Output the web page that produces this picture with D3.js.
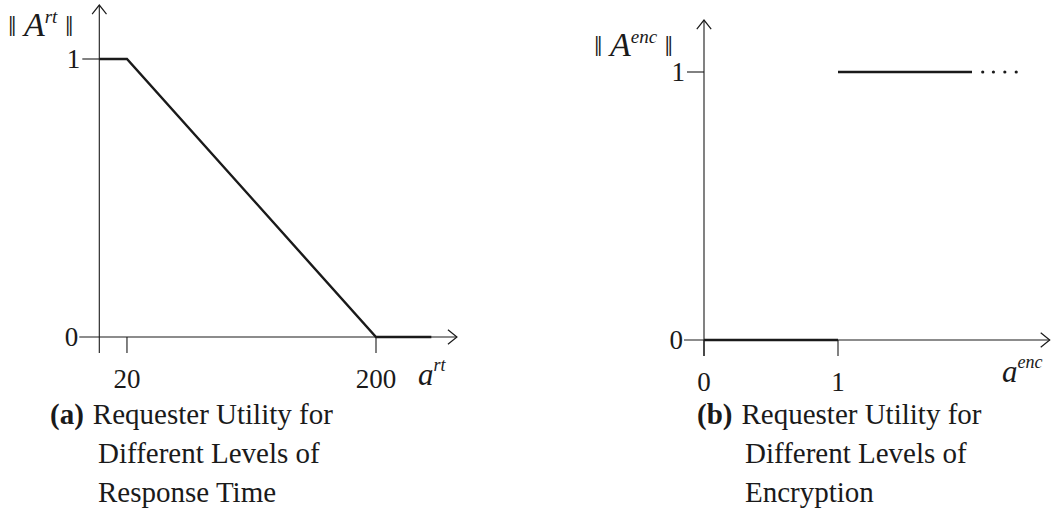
<!DOCTYPE html>
<html><head><meta charset="utf-8">
<script src="https://cdn.jsdelivr.net/npm/d3@7"></script>
<style>
body{margin:0;background:#fff;}
svg text{font-family:"Liberation Serif","DejaVu Serif",serif;fill:#1a1a1a;}
</style></head><body>
<svg id="c" width="1052" height="527"></svg>
<script>
// ---- data ----
const rtX = [0, 20, 200, 240];
const rtY = [1, 1, 0, 0];
const rtXTicks = [20, 200];
const rtYTicks = [0, 1];
const encSeg0X = [0, 1];
const encSeg0Y = [0, 0];
const encSeg1X = [1, 2];
const encSeg1Y = [1, 1];
const encDots = [2.08, 2.16, 2.245, 2.33];
const encXTicks = [0, 1];
const encYTicks = [0, 1];
const captionA = ["Requester Utility for", "Different Levels of", "Response Time"];
const captionB = ["Requester Utility for", "Different Levels of", "Encryption"];

const svg = d3.select("#c");
const ink = "#1a1a1a";

function arrowHead(g, x, y, dir){
  const s = 9;
  let p;
  if(dir==="right") p = [[x-s, y-s*0.8],[x, y],[x-s, y+s*0.8]];
  else p = [[x-s*0.8, y+s],[x, y],[x+s*0.8, y+s]];
  g.append("path").attr("d", d3.line()(p)).attr("fill","none").attr("stroke",ink).attr("stroke-width",1.2);
}

function panel(cfg){
  const g = svg.append("g");
  const x = d3.scaleLinear().domain(cfg.xd).range(cfg.xr);
  const y = d3.scaleLinear().domain([0,1]).range(cfg.yr);
  const x0 = x(0), y0 = y(0);
  // axes
  g.append("line").attr("x1",x0).attr("x2",x0).attr("y1",y0+16).attr("y2",y(cfg.yMax)).attr("stroke",ink).attr("stroke-width",1.1);
  g.append("line").attr("x1",x0-20).attr("x2",x(cfg.xMax)).attr("y1",y0).attr("y2",y0).attr("stroke",ink).attr("stroke-width",1.1);
  arrowHead(g, x0, y(cfg.yMax), "up");
  arrowHead(g, x(cfg.xMax), y0, "right");
  // y ticks
  cfg.yTicks.forEach(t=>{
    if(t!==0) g.append("line").attr("x1",x0-17).attr("x2",x0).attr("y1",y(t)).attr("y2",y(t)).attr("stroke",ink).attr("stroke-width",1.1);
    g.append("text").attr("x",x0-(t===0?21:19)).attr("y",y(t)+9).attr("text-anchor","end").attr("font-size",27).text(t);
  });
  // x ticks
  cfg.xTicks.forEach(t=>{
    g.append("line").attr("x1",x(t)).attr("x2",x(t)).attr("y1",y0).attr("y2",y0+16).attr("stroke",ink).attr("stroke-width",1.1);
    g.append("text").attr("x",x(t)).attr("y",y0+51).attr("text-anchor","middle").attr("font-size",27).text(t);
  });
  // data
  const line = d3.line().x(d=>x(d[0])).y(d=>y(d[1]));
  cfg.series.forEach(s=>{
    g.append("path").attr("d", line(s[0].map((v,i)=>[v,s[1][i]]))).attr("fill","none").attr("stroke",ink).attr("stroke-width",2.4).attr("stroke-linejoin","miter");
  });
  if(cfg.dots) cfg.dots.forEach(d=>{
    g.append("circle").attr("cx",x(d)).attr("cy",y(1)).attr("r",1.6).attr("fill",ink);
  });
  // axis labels
  const yl = g.append("text").attr("x",cfg.ylx).attr("y",cfg.yly).attr("font-size",30);
  yl.append("tspan").text("‖ ");
  yl.append("tspan").attr("font-style","italic").attr("font-size",34).text("A");
  yl.append("tspan").attr("font-style","italic").attr("font-size",19).attr("dy",-13).text(cfg.sup);
  yl.append("tspan").attr("dy",13).text(" ‖");
  const xl = g.append("text").attr("x",cfg.xlx).attr("y",cfg.xly).attr("font-size",31).attr("font-style","italic");
  xl.append("tspan").text("a");
  xl.append("tspan").attr("font-size",18).attr("dy",-14).text(cfg.sup);
  // caption
  const cap = g.append("text").attr("x",cfg.capx).attr("y",cfg.capy).attr("font-size",29);
  cap.append("tspan").attr("font-weight","bold").text(cfg.capLabel);
  cfg.caption.forEach((c,i)=>{
    cap.append("tspan").attr("x", i===0?null:cfg.capx+cfg.capIndent).attr("dx", i===0?9:null).attr("dy", i===0?0:39).text(c);
  });
}

panel({xd:[0,200], xr:[99.3,376], yr:[337,59], xMax:258.5, yMax:1.194,
  xTicks:rtXTicks, yTicks:rtYTicks, series:[[rtX,rtY]], sup:"rt",
  ylx:8, yly:36, xlx:418, xly:385,
  capx:50, capy:424, capIndent:48, capLabel:"(a)", caption:captionA});

panel({xd:[0,1], xr:[704,838], yr:[340,72], xMax:2.58, yMax:1.194,
  xTicks:encXTicks, yTicks:encYTicks, series:[[encSeg0X,encSeg0Y],[encSeg1X,encSeg1Y]], dots:encDots, sup:"enc",
  ylx:594, yly:56, xlx:1002, xly:382,
  capx:697, capy:424, capIndent:48, capLabel:"(b)", caption:captionB});
</script></body></html>
